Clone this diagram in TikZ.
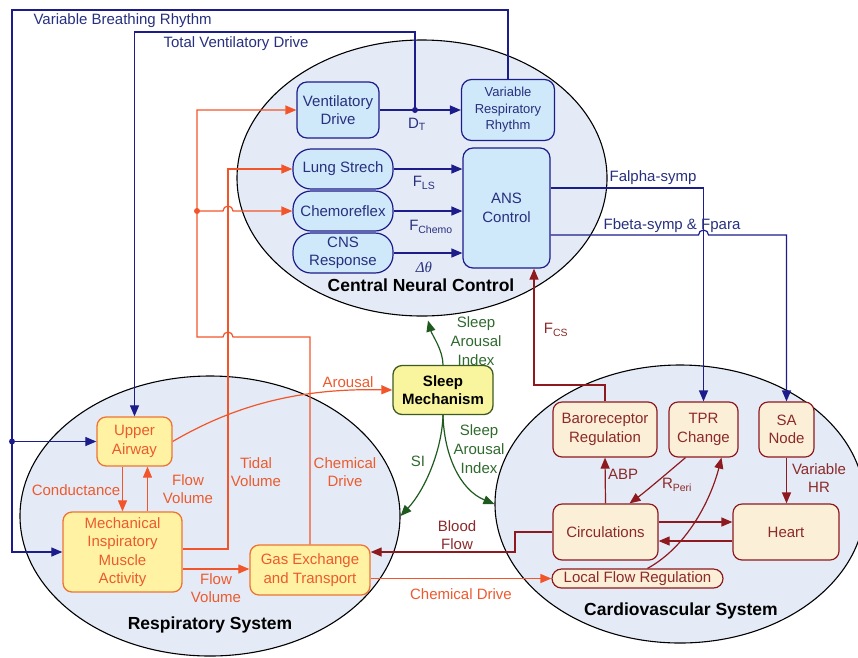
\documentclass[tikz,border=0pt]{standalone}
\usepackage{fontspec}
\setmainfont{Liberation Sans}
\newfontfamily\grkserif{Liberation Serif}
\usetikzlibrary{shapes.geometric,arrows.meta}
\definecolor{blueln}{HTML}{1C1C8A}
\definecolor{bluetx}{HTML}{27307E}
\definecolor{cncfill}{HTML}{CFE8FA}
\definecolor{ellfill}{HTML}{E5EBF6}
\definecolor{orln}{HTML}{F2552A}
\definecolor{ortx}{HTML}{EC5A2E}
\definecolor{respfill}{HTML}{FFF3A3}
\definecolor{respbd}{HTML}{EE7433}
\definecolor{redln}{HTML}{8E1A1F}
\definecolor{redtx}{HTML}{8B2A2A}
\definecolor{cvfill}{HTML}{FCEFD8}
\definecolor{grln}{HTML}{1E5A1E}
\definecolor{grtx}{HTML}{2F6A2F}
\definecolor{sleepfill}{HTML}{F9F59E}
\definecolor{sleepbd}{HTML}{3E5A1E}
\newcommand{\sbs}[1]{\textsubscript{#1}}
\tikzset{
  ell/.style={ellipse, draw=black, fill=ellfill, line width=1.1pt, inner sep=0pt},
  cncbox/.style={draw=blueln, fill=cncfill, text=bluetx, line width=1.2pt, rounded corners=10pt, align=center, inner sep=0pt},
  capbox/.style={cncbox, rounded corners=18pt},
  respbox/.style={draw=respbd, fill=respfill, text=ortx, line width=1.3pt, rounded corners=9pt, align=center, inner sep=0pt},
  cvbox/.style={draw=redln, fill=cvfill, text=redtx, line width=1.2pt, rounded corners=9pt, align=center, inner sep=0pt},
  sleepbox/.style={draw=sleepbd, fill=sleepfill, text=black, line width=1.3pt, rounded corners=9pt, align=center, inner sep=0pt, font=\fontsize{15}{18}\selectfont\bfseries},
  tip/.style={-{Triangle[length=11pt,width=9pt]}},
  bl/.style={draw=blueln, line width=1.2pt},
  orl/.style={draw=orln, line width=1.2pt},
  rdl/.style={draw=redln, line width=1.2pt},
  grl/.style={draw=grln, line width=1.2pt},
  btx/.style={text=bluetx, align=center},
  otx/.style={text=ortx, align=center},
  rtx/.style={text=redtx, align=center},
  gtx/.style={text=grtx, align=center},
  title/.style={font=\fontsize{17.5}{20}\selectfont\bfseries, text=black},
}
\begin{document}
\begin{tikzpicture}[x=1pt,y=-1pt,font=\fontsize{15}{18.5}\selectfont]
\useasboundingbox (0,0) rectangle (858,657);
% ellipses
\node[ell, minimum width=370pt, minimum height=276pt] (cnc) at (422,178) {};
\node[ell, minimum width=380pt, minimum height=280pt] (resp) at (210,516) {};
\node[ell, minimum width=370pt, minimum height=278pt] (cvs) at (680,504) {};

% CNC nodes
\node[cncbox, minimum width=82pt, minimum height=56pt] (vd) at (338,110) {Ventilatory\\Drive};
\node[cncbox, minimum width=93pt, minimum height=61pt, font=\fontsize{13}{16.5}\selectfont] (vrr) at (508,110) {Variable\\Respiratory\\Rhythm};
\node[capbox, minimum width=100pt, minimum height=40pt] (ls) at (343,169) {Lung Strech};
\node[capbox, minimum width=100pt, minimum height=40pt] (chemo) at (343,211) {Chemoreflex};
\node[capbox, minimum width=100pt, minimum height=40pt] (cns) at (343,253) {CNS\\Response};
\node[cncbox, minimum width=87pt, minimum height=120pt] (ans) at (506.5,208) {ANS\\Control};

% sleep
\node[sleepbox, minimum width=100pt, minimum height=49pt] (sleep) at (443,390) {Sleep\\Mechanism};

% respiratory nodes
\node[respbox, minimum width=75pt, minimum height=49pt] (ua) at (134.5,441.5) {Upper\\Airway};
\node[respbox, minimum width=119pt, minimum height=80pt] (mech) at (122.5,552) {Mechanical\\Inspiratory\\Muscle\\Activity};
\node[respbox, minimum width=120pt, minimum height=50pt] (gas) at (310,570) {Gas Exchange\\and Transport};

% cardiovascular nodes
\node[cvbox, minimum width=104pt, minimum height=55pt] (baro) at (605,429.5) {Baroreceptor\\Regulation};
\node[cvbox, minimum width=69pt, minimum height=55pt] (tpr) at (703.5,429.5) {TPR\\Change};
\node[cvbox, minimum width=55pt, minimum height=55pt] (sa) at (786.5,429.5) {SA\\Node};
\node[cvbox, minimum width=105pt, minimum height=56pt] (circ) at (605.5,532) {Circulations};
\node[cvbox, minimum width=106pt, minimum height=56pt] (heart) at (786,532) {Heart};
\node[cvbox, minimum width=171pt, minimum height=19pt, rounded corners=9.5pt] (lfr) at (637.5,578.5) {Local Flow Regulation};

% coordinates
\coordinate (vbr) at (12,10);
\coordinate (uadot) at (12,441.5);
\coordinate (dt) at (415,110);
\coordinate (tvd) at (134.5,32);
\coordinate (odot) at (197,211);
\coordinate (ochem) at (197,337);
\coordinate (otid) at (228,169);
\coordinate (bf) at (515,532);
\coordinate (fcs) at (534,385);

% blue connectors
\draw[bl,tip] (vrr.north) |- (vbr) |- (mech.west);
\draw[bl,tip] (uadot) -- (ua.west);
\fill[blueln] (uadot) circle (3pt);
\draw[bl,tip] (vd.east) -- (vrr.west);
\draw[bl,tip] (dt) |- (tvd) -- (ua.north);
\fill[blueln] (dt) circle (3pt);
\draw[bl,tip] (ls.east) -- (ls.east -| ans.west);
\draw[bl,tip] (chemo.east) -- (chemo.east -| ans.west);
\draw[bl,tip] (cns.east) -- (cns.east -| ans.west);
\draw[bl,tip] ([yshift=20pt]ans.east) -| (tpr.north);
\draw[bl,tip] ([yshift=-27pt]ans.east) -- (698.5,235) arc[start angle=180,end angle=0,radius=5pt] -- (786.5,235) -- (sa.north);

% orange connectors
\draw[orl,tip] (gas.north) |- (233,337) arc[start angle=0,end angle=180,radius=5pt] -- (ochem) |- (vd.west);
\draw[orl,tip] (odot) -- (223,211) arc[start angle=180,end angle=0,radius=5pt] -- (chemo.west);
\fill[orln] (odot) circle (3pt);
\draw[orl,tip] ([yshift=3pt]mech.east) -| (otid) -- (ls.west);
\draw[orl,tip] ([xshift=-12pt]ua.south) -- ([xshift=-12pt]ua.south |- mech.north);
\draw[orl,tip] ([xshift=13pt]ua.south |- mech.north) -- ([xshift=13pt]ua.south);
\draw[orl,tip] (ua.east) .. controls (235,405) and (300,388) .. (sleep.west);
\draw[orl,tip] ([yshift=-17pt]mech.east) -- ([yshift=-17pt]mech.east -| gas.west);
\draw[orl,tip] (gas.east |- lfr.west) -- (lfr.west);

% red connectors
\draw[rdl,tip] (circ.west) -- (bf) |- ([yshift=18pt]gas.east);
\draw[rdl,tip] (circ.north) -- (baro.south);
\draw[rdl,tip] ([xshift=-18pt]tpr.south) .. controls (665,475) and (645,492) .. ([xshift=24pt]circ.north);
\draw[rdl,tip] ([xshift=10pt]lfr.north) .. controls (690,545) and (712,495) .. ([xshift=18pt]tpr.south);
\draw[rdl,tip] ([yshift=10pt]circ.east) -- ([yshift=10pt]heart.west);
\draw[rdl,tip] ([yshift=-9pt]heart.west) -- ([yshift=-9pt]circ.east);
\draw[rdl,tip] (sa.south) -- (sa.south |- heart.north);
\draw[rdl,tip] (baro.north) |- (fcs) -- ([xshift=27.5pt]ans.south);

% green connectors
\draw[grl,tip] (sleep.north) .. controls (443,350) and (432,335) .. ([xshift=6pt,yshift=-4pt]cnc.south);
\draw[grl,tip] (sleep.south) .. controls (442,450) and (425,490) .. (resp.east);
\draw[grl,tip] (sleep.south) .. controls (444,455) and (460,490) .. (cvs.west);

% labels
\node[btx, anchor=west] (lvbr) at (30,21) {Variable Breathing Rhythm};
\node[btx, anchor=west] (ltvd) at (160,44) {Total Ventilatory Drive};
\node[btx] (ldt) at (417,124) {D\sbs{T}};
\node[btx] (lfls) at (424,183) {F\sbs{LS}};
\node[btx] (lfch) at (431,227) {F\sbs{Chemo}};
\node[btx] (ldth) at (424,267) {{\grkserif\itshape Δθ}};
\node[btx] (lfa) at (653,178) {Falpha-symp};
\node[btx] (lfb) at (672,226) {Fbeta-symp \& Fpara};
\node[title] (lcnc) at (421,285) {Central Neural Control};
\node[title] (lresp) at (210,625) {Respiratory System};
\node[title] (lcvs) at (681,611) {Cardiovascular System};
\node[rtx] (lfcs) at (556,330) {F\sbs{CS}};
\node[gtx, font=\fontsize{15}{19}\selectfont] (lsai1) at (476,341) {Sleep\\Arousal\\Index};
\node[gtx, font=\fontsize{15}{19}\selectfont] (lsai2) at (479,449) {Sleep\\Arousal\\Index};
\node[gtx] (lsi) at (418,461) {SI};
\node[otx] (laro) at (348,382) {Arousal};
\node[otx] (lcond) at (76,490) {Conductance};
\node[otx] (lfv1) at (188,489) {Flow\\Volume};
\node[otx] (ltid) at (256,472) {Tidal\\Volume};
\node[otx] (lchd1) at (345,472) {Chemical\\Drive};
\node[otx] (lfv2) at (216,588) {Flow\\Volume};
\node[otx] (lchd2) at (461,594) {Chemical Drive};
\node[rtx] (lbf) at (457,535) {Blood\\Flow};
\node[rtx] (labp) at (623,474) {ABP};
\node[rtx] (lrp) at (677,485) {R\sbs{Peri}};
\node[rtx] (lvhr) at (819,478) {Variable\\HR};
\end{tikzpicture}
\end{document}
